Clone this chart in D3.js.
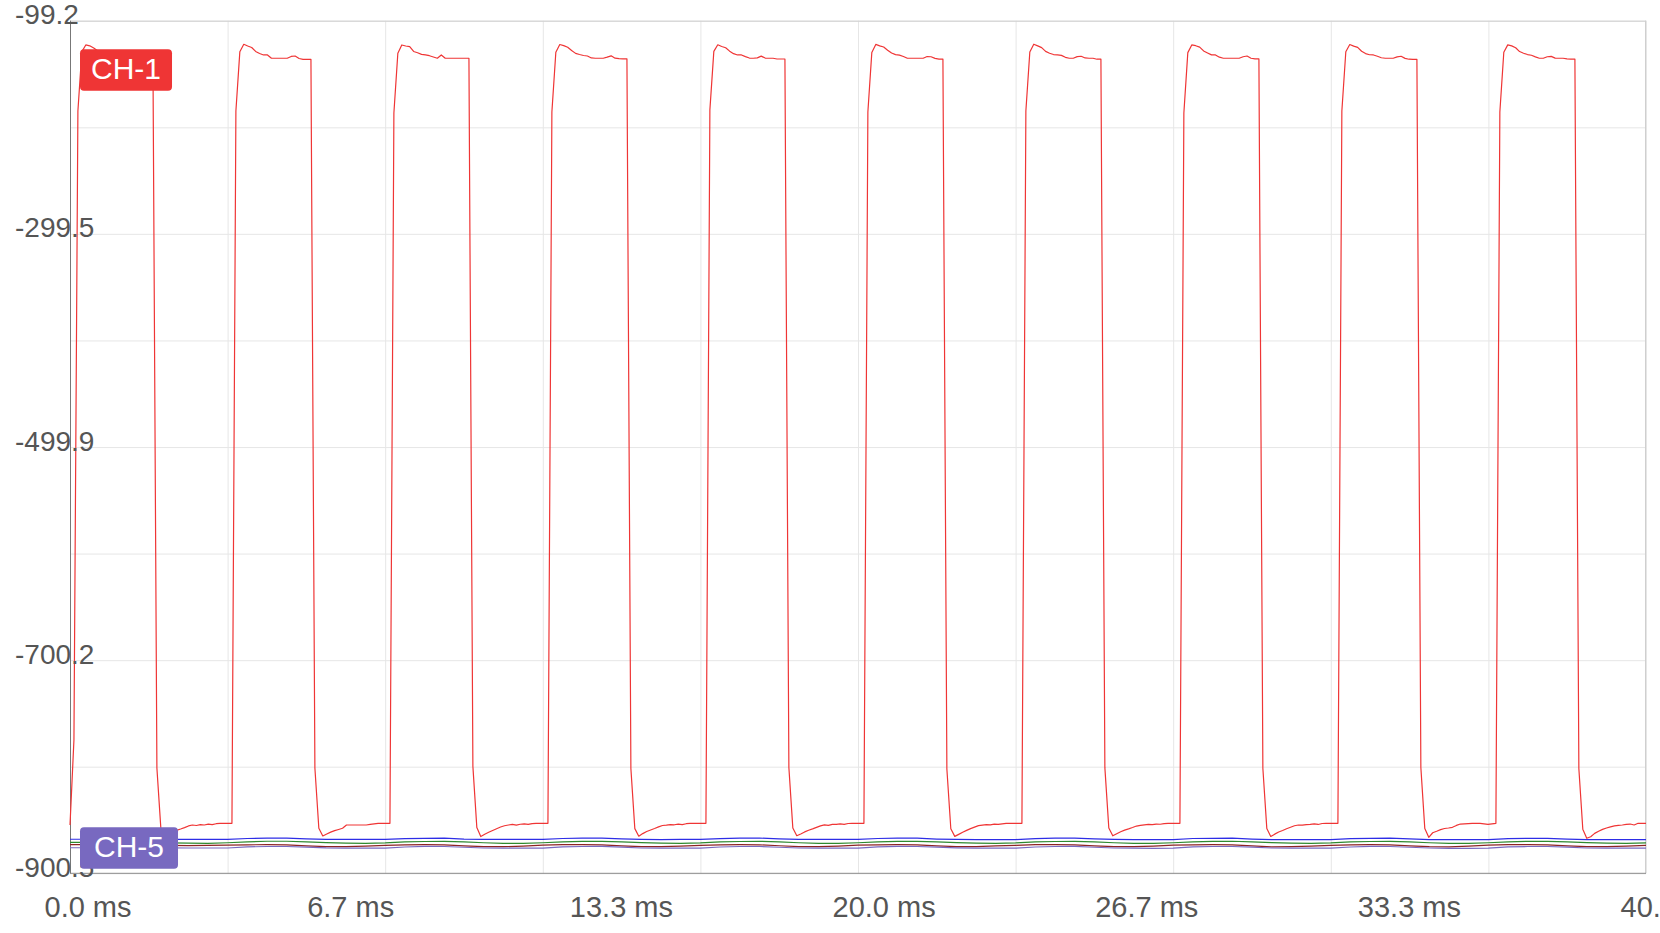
<!DOCTYPE html>
<html>
<head>
<meta charset="utf-8">
<script src="https://cdn.jsdelivr.net/npm/d3@7"></script>
<style>
  body { margin: 0; background: #fff; overflow: hidden; }
</style>
</head>
<body>
<script>
const panel_width = 1660;
const panel_height = 933;

// CH-1: one sample every 40/399 ms, one row = one 4 ms cycle (40 samples)
const ch1_step = 40 / 399;
const ch1 = [
  -855.1, -775.0, -184.0, -128.3, -122.0, -122.8, -124.9, -127.5, -129.7, -131.4, -131.4, -133.9, -134.5, -134.5, -132.9, -132.6, -134.5, -134.5, -135.3, -135.5, -135.5, -135.5, -801.6, -858.2, -865.0, -863.4, -861.5, -860.1, -858.9, -857.6, -856.0, -855.1, -855.6, -854.8, -855.1, -854.3, -854.8, -853.9, -853.5, -853.5,
  -853.5, -853.5, -184.0, -128.3, -121.4, -123.0, -124.4, -128.1, -130.0, -131.4, -131.4, -134.5, -134.5, -134.5, -134.5, -134.5, -132.8, -132.4, -134.7, -135.5, -135.5, -135.5, -801.6, -858.2, -865.4, -863.6, -861.8, -860.4, -859.3, -858.2, -855.1, -855.1, -855.1, -855.1, -855.1, -855.1, -854.5, -854.0, -853.5, -853.5,
  -853.5, -853.5, -186.0, -129.8, -122.0, -123.0, -123.6, -128.1, -129.3, -130.8, -131.4, -132.1, -133.3, -134.5, -131.4, -134.5, -134.5, -134.5, -134.5, -134.5, -134.5, -134.5, -800.0, -857.5, -866.0, -863.8, -862.0, -860.3, -858.6, -857.0, -855.8, -855.1, -854.6, -855.2, -854.4, -854.0, -854.6, -853.8, -853.5, -853.5,
  -853.5, -853.5, -185.0, -128.9, -121.6, -122.6, -124.2, -127.2, -129.9, -131.0, -131.9, -132.4, -134.2, -134.5, -134.5, -134.5, -133.4, -132.2, -134.4, -134.8, -135.0, -135.0, -802.0, -858.5, -865.6, -863.2, -861.2, -859.8, -858.4, -856.9, -855.6, -855.3, -854.7, -854.9, -854.2, -854.7, -853.9, -853.6, -853.5, -853.5,
  -853.5, -853.5, -183.0, -128.0, -121.8, -123.4, -124.6, -127.8, -130.2, -131.4, -131.4, -133.0, -134.3, -134.5, -134.1, -132.5, -134.3, -134.5, -134.5, -135.2, -135.2, -135.2, -801.0, -857.9, -865.2, -863.5, -861.6, -860.0, -858.7, -857.3, -855.9, -855.0, -855.4, -854.6, -854.6, -854.1, -854.5, -853.7, -853.5, -853.5,
  -853.5, -853.5, -185.0, -129.0, -121.5, -122.8, -123.9, -126.9, -129.6, -131.1, -131.6, -132.9, -134.5, -134.5, -134.5, -134.5, -134.5, -132.9, -133.1, -134.6, -135.3, -135.3, -802.5, -858.6, -865.8, -863.9, -861.9, -860.2, -858.5, -857.1, -855.7, -855.2, -854.8, -855.0, -854.3, -854.6, -854.0, -853.6, -853.5, -853.5,
  -853.5, -853.5, -184.0, -128.6, -121.3, -122.9, -124.5, -128.0, -129.8, -131.0, -131.4, -131.8, -133.6, -134.5, -134.5, -133.0, -132.6, -134.2, -134.5, -134.5, -135.4, -135.4, -801.2, -858.0, -865.3, -863.3, -861.4, -859.9, -858.8, -857.5, -856.1, -855.4, -854.9, -854.5, -854.8, -854.2, -854.4, -853.8, -853.5, -853.5,
  -853.5, -853.5, -186.0, -129.2, -122.0, -122.7, -124.0, -127.6, -129.5, -131.3, -131.4, -133.5, -134.5, -134.5, -134.5, -134.5, -134.5, -133.1, -132.4, -134.5, -135.1, -135.1, -801.8, -858.4, -865.9, -863.7, -861.7, -860.3, -858.6, -857.2, -855.8, -855.1, -855.3, -854.7, -854.5, -854.0, -854.6, -853.7, -853.5, -853.5,
  -853.5, -853.5, -184.0, -128.4, -121.6, -123.1, -124.3, -127.9, -130.1, -131.2, -131.4, -132.6, -134.0, -134.5, -134.5, -134.5, -133.2, -132.6, -134.6, -135.4, -135.5, -135.5, -801.0, -858.5, -866.7, -862.4, -861.0, -859.5, -858.4, -857.9, -857.3, -855.5, -854.2, -854.0, -853.8, -853.6, -853.5, -853.5, -854.0, -854.5,
  -854.0, -853.5, -185.0, -128.8, -121.9, -122.9, -124.6, -128.2, -129.8, -131.0, -131.7, -133.2, -134.5, -134.5, -133.1, -132.7, -134.4, -134.5, -134.5, -135.0, -135.3, -135.3, -802.0, -859.0, -867.6, -866.1, -863.0, -861.0, -859.2, -857.9, -856.8, -856.0, -855.5, -855.1, -854.6, -854.2, -855.1, -853.5, -853.5, -853.5
];

// CH-2 .. CH-5 read every 0.5 ms (0 .. 40 ms)
const slow_step = 0.5;
const ch2 = [
  -868.5, -868.5, -868.5, -868.6, -868.6, -868.6, -868.6, -868.6,
  -868.6, -867.8, -867.5, -867.5, -868.2, -868.6, -868.7, -868.7,
  -868.7, -867.9, -867.6, -867.4, -868.3, -868.7, -868.7, -868.7,
  -868.7, -867.8, -867.5, -867.5, -868.2, -868.7, -868.8, -868.7,
  -868.7, -867.9, -867.5, -867.4, -868.1, -868.6, -868.7, -868.7,
  -868.7, -867.8, -867.4, -867.5, -868.3, -868.7, -868.8, -868.8,
  -868.8, -867.9, -867.5, -867.5, -868.2, -868.7, -868.8, -868.8,
  -868.8, -867.8, -867.6, -867.5, -868.3, -868.8, -868.9, -868.8,
  -868.8, -867.9, -867.6, -867.5, -868.2, -868.8, -868.9, -868.9,
  -868.9, -867.9, -867.6, -867.6, -868.3, -868.8, -868.9, -868.9,
  -868.9
];
const ch3 = [
  -871.5, -871.5, -871.4, -871.5, -871.6, -871.9, -872.2, -872.3,
  -871.8, -870.9, -870.4, -870.4, -870.9, -871.7, -872.2, -872.3,
  -871.9, -871.0, -870.6, -870.5, -871.0, -871.8, -872.3, -872.3,
  -871.8, -870.9, -870.5, -870.5, -870.9, -871.7, -872.2, -872.3,
  -871.9, -871.0, -870.6, -870.4, -871.0, -871.8, -872.3, -872.4,
  -871.8, -870.9, -870.5, -870.5, -871.0, -871.7, -872.2, -872.3,
  -871.9, -871.0, -870.6, -870.5, -870.9, -871.8, -872.3, -872.3,
  -871.8, -870.9, -870.5, -870.4, -871.0, -871.7, -872.2, -872.3,
  -871.9, -871.0, -870.6, -870.5, -871.0, -871.8, -872.3, -872.4,
  -871.8, -870.9, -870.5, -870.5, -870.9, -871.7, -872.2, -872.3,
  -871.9
];
const ch4 = [
  -873.6, -873.6, -873.7, -873.8, -874.0, -874.2, -874.4, -874.3,
  -874.1, -873.7, -873.6, -873.8, -874.8, -875.5, -875.4, -874.9,
  -874.2, -873.7, -873.5, -873.7, -874.7, -875.4, -875.5, -875.0,
  -874.1, -873.6, -873.6, -873.8, -874.8, -875.5, -875.4, -874.9,
  -874.2, -873.7, -873.5, -873.7, -874.6, -875.4, -875.5, -875.0,
  -874.1, -873.7, -873.6, -873.8, -874.8, -875.5, -875.4, -874.8,
  -874.2, -873.6, -873.5, -873.7, -874.7, -875.4, -875.5, -875.0,
  -874.1, -873.7, -873.6, -873.8, -874.8, -875.6, -875.4, -874.9,
  -874.2, -873.7, -873.5, -873.7, -874.7, -875.5, -875.6, -875.0,
  -874.1, -873.6, -873.5, -873.8, -874.8, -875.5, -875.4, -874.9,
  -874.2
];
const ch5 = [
  -876.5, -876.5, -876.5, -876.5, -876.5, -876.6, -876.7, -876.7,
  -876.7, -875.7, -875.3, -875.3, -875.9, -876.6, -876.8, -876.8,
  -876.8, -875.8, -875.2, -875.3, -876.0, -876.7, -876.9, -876.9,
  -876.8, -875.7, -875.3, -875.2, -875.9, -876.7, -876.8, -876.9,
  -876.9, -875.8, -875.3, -875.3, -876.0, -876.7, -876.9, -876.9,
  -876.8, -875.7, -875.2, -875.3, -875.9, -876.6, -876.9, -876.9,
  -876.9, -875.8, -875.3, -875.2, -876.0, -876.7, -876.9, -877.0,
  -876.9, -875.7, -875.3, -875.3, -875.9, -876.7, -876.9, -876.9,
  -876.9, -875.8, -875.2, -875.3, -876.0, -876.7, -877.0, -877.0,
  -876.9, -875.7, -875.3, -875.3, -875.9, -876.7, -876.9, -876.9,
  -876.9
];

const channel_names = ["CH-1", "CH-2", "CH-3", "CH-4", "CH-5"];
const channel_colors = ["#ef3535", "#2d2de6", "#2f8a2f", "#8e2424", "#7869c0"];
const labelled_channels = ["CH-1", "CH-5"];

const y_grid_ticks = [-99.2, -199.4, -299.5, -399.7, -499.9, -600.0, -700.2, -800.3, -900.5];
const y_label_ticks = [-99.2, -299.5, -499.9, -700.2, -900.5];
const x_grid_ticks = [0, 4, 8, 12, 16, 20, 24, 28, 32, 36, 40];
const x_label_ticks = [0, 20 / 3, 40 / 3, 20, 80 / 3, 100 / 3, 40];

window.addEventListener("load", makeScope);

function makeScope() {
    const margin = { top: 20.7, right: 14, bottom: 59.7, left: 70 };
    const w = panel_width - margin.left - margin.right;
    const h = panel_height - margin.top - margin.bottom;
    const font = "'Liberation Sans', Arial, Helvetica, sans-serif";

    const svg = d3.select("body")
        .append("svg")
        .attr("width", panel_width)
        .attr("height", panel_height);

    const x = d3.scaleLinear().domain([0, 40]).range([0, w]);
    const y = d3.scaleLinear().domain([-900.5, -99.2]).range([h, 0]);

    const plot = svg.append("g")
        .attr("transform", `translate(${margin.left},${margin.top})`);

    // grid
    plot.append("g")
        .call(d3.axisLeft(y).tickValues(y_grid_ticks).tickSize(-w).tickFormat(""))
        .call(g => g.select(".domain").remove())
        .call(g => g.selectAll("line").attr("stroke", "#e6e6e6"));

    plot.append("g")
        .attr("transform", `translate(0,${h})`)
        .call(d3.axisBottom(x).tickValues(x_grid_ticks).tickSize(-h).tickFormat(""))
        .call(g => g.select(".domain").remove())
        .call(g => g.selectAll("line").attr("stroke", "#e6e6e6"));

    // frame: light top/right, darker left/bottom
    plot.append("line").attr("x1", 0).attr("x2", w).attr("y1", 0.5).attr("y2", 0.5)
        .attr("stroke", "#cfcfcf");
    plot.append("line").attr("x1", w - 0.5).attr("x2", w - 0.5).attr("y1", 0).attr("y2", h)
        .attr("stroke", "#cfcfcf");
    plot.append("line").attr("x1", 0).attr("x2", w).attr("y1", h).attr("y2", h)
        .attr("stroke", "#8a8a8a");
    plot.append("line").attr("x1", 0.5).attr("x2", 0.5).attr("y1", 0).attr("y2", h)
        .attr("stroke", "#777");

    const series = [
        { name: channel_names[0], color: channel_colors[0], step: ch1_step, values: ch1 },
        { name: channel_names[1], color: channel_colors[1], step: slow_step, values: ch2 },
        { name: channel_names[2], color: channel_colors[2], step: slow_step, values: ch3 },
        { name: channel_names[3], color: channel_colors[3], step: slow_step, values: ch4 },
        { name: channel_names[4], color: channel_colors[4], step: slow_step, values: ch5 }
    ];

    const line = d3.line()
        .x((d, i) => x(i * d.step))
        .y(d => y(d.v));

    // slow channels first, CH-1 on top
    series.slice(1).concat(series.slice(0, 1)).forEach(s => {
        const pts = s.values.map(v => ({ v: v, step: s.step }));
        plot.append("path")
            .datum(pts)
            .attr("fill", "none")
            .attr("stroke", s.color)
            .attr("stroke-width", 1.2)
            .attr("stroke-linejoin", "round")
            .attr("d", line);
    });

    // tick labels
    plot.append("g")
        .call(d3.axisLeft(y).tickValues(y_label_ticks).tickSize(0).tickFormat(d => d.toFixed(1)))
        .call(g => g.select(".domain").remove())
        .call(g => g.selectAll("text")
            .attr("x", 15 - margin.left)
            .attr("dy", 3)
            .attr("text-anchor", "start")
            .attr("fill", "#555")
            .attr("font-size", "28px")
            .attr("font-family", font));

    plot.append("g")
        .attr("transform", `translate(0,${h})`)
        .call(d3.axisBottom(x).tickValues(x_label_ticks).tickSize(0).tickFormat(d => d.toFixed(1) + " ms"))
        .call(g => g.select(".domain").remove())
        .call(g => g.selectAll("text")
            .attr("x", -26)
            .attr("y", 43.4)
            .attr("dy", 0)
            .attr("text-anchor", "start")
            .attr("fill", "#555")
            .attr("font-size", "29px")
            .attr("font-family", font));

    // channel tags at the left edge
    const tag_top = { "CH-1": 28.6, "CH-5": h - 46 };
    const tag_pad = { "CH-1": 11, "CH-5": 14 };
    series.filter(s => labelled_channels.includes(s.name)).forEach(s => {
        const tag = plot.append("g").attr("transform", `translate(10,${tag_top[s.name]})`);
        const rect = tag.append("rect")
            .attr("height", 41.5)
            .attr("rx", 4)
            .attr("ry", 4)
            .attr("fill", s.color);
        const txt = tag.append("text")
            .attr("y", 29.5)
            .attr("fill", "white")
            .attr("font-size", "30px")
            .attr("font-family", font)
            .text(s.name);
        const bw = txt.node().getBBox().width;
        txt.attr("x", tag_pad[s.name]);
        rect.attr("width", bw + 2 * tag_pad[s.name]);
    });
}
</script>
</body>
</html>
